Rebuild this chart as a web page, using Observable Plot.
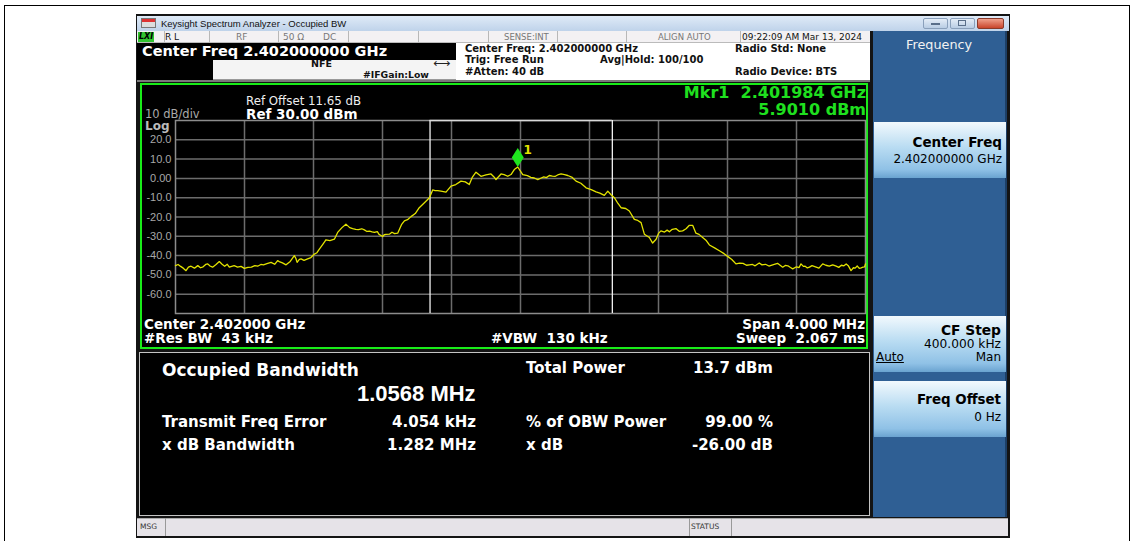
<!DOCTYPE html>
<html><head><meta charset="utf-8">
<script src="https://cdn.jsdelivr.net/npm/d3@7"></script>
<script src="https://cdn.jsdelivr.net/npm/@observablehq/plot@0.6"></script>
<style>
html,body{margin:0;padding:0}
body{width:1134px;height:541px;background:#fff;position:relative;overflow:hidden;font-family:"DejaVu Sans",sans-serif}
.a{position:absolute;white-space:pre}
.box{position:absolute;box-sizing:border-box}
</style></head><body>
<div class="box" style="left:4px;top:5px;width:1126px;height:560px;border:1px solid #000"></div>
<div class="box" style="left:136px;top:14px;width:874px;height:524px;background:#141414"></div>
<!-- title bar -->
<div class="box" style="left:137px;top:16px;width:872px;height:15px;background:linear-gradient(#dfeaf7,#bfd3ea)"></div>
<div class="box" style="left:141px;top:18px;width:15px;height:10px;background:linear-gradient(#d33 0 40%,#ddd 40% 100%);border:1px solid #777"></div>
<div class="box" style="left:923px;top:18px;width:25px;height:11px;background:linear-gradient(#e4edf7,#b9cde4);border:1px solid #8aa0bb;border-radius:2px"></div>
<div class="box" style="left:950px;top:18px;width:25px;height:11px;background:linear-gradient(#e4edf7,#b9cde4);border:1px solid #8aa0bb;border-radius:2px"></div>
<div class="box" style="left:977px;top:18px;width:27px;height:11px;background:linear-gradient(#f0a08c,#c9452c);border:1px solid #8a3a2a;border-radius:2px"></div>
<div class="box" style="left:931px;top:23px;width:9px;height:2px;background:#5a6f8a"></div>
<div class="box" style="left:958px;top:20px;width:8px;height:6px;border:1px solid #5a6f8a"></div>
<!-- status row -->
<div class="box" style="left:137px;top:31px;width:733px;height:12px;background:#f3f1f3;border-bottom:1px solid #bbb"></div>
<div class="box" style="left:138px;top:32px;width:16px;height:10px;background:#31c331"></div>
<!-- info area -->
<div class="box" style="left:137px;top:43px;width:733px;height:38px;background:#fff"></div>
<div class="box" style="left:137px;top:43px;width:319px;height:17px;background:#000"></div>
<div class="box" style="left:137px;top:60px;width:76px;height:20px;background:#000"></div>
<div class="box" style="left:213px;top:60px;width:243px;height:20px;background:#f4f4f4;border-bottom:1px solid #999"></div>
<div class="box" style="left:137px;top:80px;width:733px;height:2px;background:#7a7a7a"></div>
<!-- graph container -->
<div class="box" id="graph" style="left:140px;top:83px;width:728px;height:266px;border:2px solid #19ec19;background:#000"></div>
<!-- results -->
<div class="box" style="left:139px;top:352px;width:731px;height:164px;background:#000;border:1px solid #c4c4c4"></div>
<!-- softkey panel -->
<div class="box" style="left:873px;top:31px;width:134px;height:486px;background:#2f5f94;border-right:2px solid #1d3f66"></div>
<div class="box" style="left:874px;top:122px;width:132px;height:56px;background:linear-gradient(#f2f9fd,#b9dcf2 45%,#8fc1e6 85%,#6aa3d0)"></div>
<div class="box" style="left:874px;top:316px;width:132px;height:56px;background:linear-gradient(#f2f9fd,#b9dcf2 45%,#8fc1e6 85%,#6aa3d0)"></div>
<div class="box" style="left:874px;top:381px;width:132px;height:56px;background:linear-gradient(#f2f9fd,#b9dcf2 45%,#8fc1e6 85%,#6aa3d0)"></div>
<!-- bottom bar -->
<div class="box" style="left:137px;top:518px;width:871px;height:18px;background:#e6e3e8;border-top:1px solid #aaa"></div>
<div class="box" style="left:165px;top:518px;width:1px;height:18px;background:#999"></div>
<div class="box" style="left:689px;top:518px;width:1px;height:18px;background:#999"></div>
<div class="box" style="left:731px;top:518px;width:1px;height:18px;background:#999"></div>
<script>
// ---------------- data ----------------
const freqStartMHz = 2400.0;
const freqStopMHz = 2404.0;
const yMin = -70, yMax = 30;
const yTicks = [20, 10, 0, -10, -20, -30, -40, -50, -60];
const xGridMHz = [2400.4, 2400.8, 2401.2, 2401.6, 2402.0, 2402.4, 2402.8, 2403.2, 2403.6];
const obwEdgesMHz = [2401.4756, 2402.5324];
const markerFreqMHz = 2401.984;
const markerDbm = 5.901;
const traceFreqMHz = [
 2400.000,2400.015,2400.030,2400.045,2400.061,2400.075,2400.090,2400.110,2400.129,2400.145,
 2400.160,2400.175,2400.187,2400.200,2400.215,2400.235,2400.254,2400.270,2400.285,2400.300,
 2400.312,2400.340,2400.360,2400.380,2400.399,2400.420,2400.440,2400.460,2400.476,2400.495,
 2400.510,2400.530,2400.554,2400.575,2400.592,2400.605,2400.620,2400.641,2400.665,2400.689,
 2400.698,2400.705,2400.718,2400.728,2400.745,2400.766,2400.785,2400.805,2400.820,2400.834,
 2400.855,2400.872,2400.895,2400.921,2400.940,2400.965,2400.988,2401.010,2401.027,2401.045,
 2401.060,2401.080,2401.095,2401.110,2401.125,2401.140,2401.153,2401.170,2401.180,2401.201,
 2401.210,2401.220,2401.240,2401.255,2401.270,2401.288,2401.310,2401.327,2401.345,2401.365,
 2401.390,2401.413,2401.443,2401.472,2401.491,2401.505,2401.520,2401.539,2401.568,2401.597,
 2401.625,2401.655,2401.680,2401.703,2401.720,2401.742,2401.771,2401.800,2401.829,2401.845,
 2401.858,2401.887,2401.905,2401.926,2401.945,2401.964,2401.984,2402.013,2402.040,2402.060,
 2402.080,2402.100,2402.120,2402.135,2402.150,2402.167,2402.185,2402.200,2402.220,2402.235,
 2402.255,2402.274,2402.300,2402.322,2402.350,2402.380,2402.410,2402.438,2402.460,2402.486,
 2402.506,2402.525,2402.544,2402.565,2402.583,2402.610,2402.631,2402.660,2402.680,2402.699,
 2402.718,2402.747,2402.766,2402.786,2402.800,2402.814,2402.835,2402.850,2402.863,2402.880,
 2402.901,2402.920,2402.940,2402.960,2402.979,2402.998,2403.017,2403.035,2403.056,2403.075,
 2403.095,2403.125,2403.153,2403.180,2403.201,2403.225,2403.249,2403.270,2403.290,2403.310,
 2403.327,2403.345,2403.360,2403.384,2403.400,2403.420,2403.440,2403.462,2403.490,2403.505,
 2403.520,2403.535,2403.550,2403.565,2403.578,2403.600,2403.615,2403.626,2403.640,2403.650,
 2403.663,2403.675,2403.690,2403.710,2403.730,2403.752,2403.770,2403.790,2403.810,2403.830,
 2403.845,2403.860,2403.875,2403.888,2403.900,2403.916,2403.930,2403.940,2403.952,2403.964,
 2403.975,2403.985,2403.995,2404.000];
const traceDbm = [
 -45.2,-44.6,-45.6,-46.5,-47.8,-46.0,-45.5,-46.5,-45.2,-46.3,
 -45.8,-44.6,-44.3,-45.4,-46.0,-44.6,-43.1,-44.5,-45.5,-44.5,
 -46.0,-45.2,-46.0,-45.6,-46.6,-46.1,-46.0,-45.2,-45.5,-44.6,
 -44.8,-44.2,-43.5,-44.5,-42.6,-43.3,-43.8,-44.8,-43.0,-40.0,
 -41.5,-43.5,-42.0,-41.7,-42.5,-41.7,-41.0,-39.2,-38.5,-36.6,
 -34.0,-31.8,-32.2,-31.5,-28.0,-25.5,-23.7,-25.5,-26.0,-26.4,
 -26.5,-26.1,-26.7,-27.5,-27.3,-27.7,-28.0,-27.6,-29.0,-30.1,
 -29.2,-29.0,-28.9,-27.9,-28.6,-28.4,-24.0,-22.0,-21.4,-19.8,
 -18.2,-15.2,-12.6,-10.0,-6.0,-6.3,-6.3,-6.6,-7.1,-4.0,
 -3.2,-1.4,-1.8,-3.2,0.5,3.2,1.1,1.8,2.3,0.9,
 -0.6,2.3,2.0,1.1,2.0,4.6,5.9,2.0,1.4,0.5,
 0.2,-0.6,0.2,0.8,0.4,1.5,1.2,1.0,2.0,2.3,
 1.9,1.5,0.5,-1.4,-2.5,-4.9,-5.8,-7.0,-7.6,-8.8,
 -6.6,-8.5,-10.0,-13.0,-15.2,-15.6,-16.9,-21.2,-21.8,-22.9,
 -28.9,-30.6,-33.5,-31.5,-28.5,-27.2,-27.8,-26.8,-27.7,-26.4,
 -26.0,-27.4,-27.2,-26.1,-24.3,-24.3,-28.4,-29.0,-30.6,-32.0,
 -34.5,-36.0,-37.5,-39.0,-40.4,-42.0,-44.3,-43.9,-44.0,-45.0,
 -44.8,-44.6,-45.3,-43.8,-44.8,-44.5,-45.4,-44.8,-44.0,-45.0,
 -46.0,-45.1,-45.3,-46.2,-46.9,-45.8,-46.2,-44.3,-45.6,-45.5,
 -46.4,-46.0,-45.2,-45.8,-46.5,-44.3,-45.0,-45.5,-44.8,-45.5,
 -46.1,-45.0,-45.3,-44.3,-45.2,-47.8,-46.3,-46.5,-45.4,-46.6,
 -46.3,-46.0,-45.8,-44.3];

// ---------------- helpers ----------------
function label(txt, x, y, size, o = {}) {
  const d = document.createElement("div");
  d.className = "a";
  d.textContent = txt;
  const h = Math.round(size);
  d.style.top = (y - h / 2) + "px";
  d.style.height = h + "px";
  d.style.lineHeight = h + "px";
  d.style.fontSize = size + "px";
  d.style.fontWeight = o.weight || "normal";
  d.style.color = o.color || "#fff";
  d.style.fontFamily = o.family || '"DejaVu Sans"';
  if (o.extra) d.style.cssText += o.extra;
  if (o.align === "right") d.style.right = (1134 - x) + "px"; else d.style.left = x + "px";
  document.body.appendChild(d);
}
function vline(x, y, h, c) {
  const d = document.createElement("div");
  d.className = "box";
  d.style.cssText = `left:${x}px;top:${y}px;width:1px;height:${h}px;background:${c}`;
  document.body.appendChild(d);
}

// ---------------- plot ----------------
const trace = traceFreqMHz.map((f, i) => ({f, p: traceDbm[i]}));
const marker = [{f: markerFreqMHz, p: markerDbm}];
const tallDiamond = {draw(ctx) { ctx.moveTo(0, 0); ctx.lineTo(6, -9.5); ctx.lineTo(0, -19); ctx.lineTo(-6, -9.5); ctx.closePath(); }};

const chart = Plot.plot({
  width: 724, height: 262,
  marginLeft: 33, marginRight: 1, marginTop: 35, marginBottom: 34,
  x: {domain: [freqStartMHz, freqStopMHz], axis: null},
  y: {domain: [yMin, yMax], axis: null},
  style: {background: "#000", overflow: "visible", display: "block"},
  marks: [
    Plot.gridX(xGridMHz, {stroke: "#6c6c6c", strokeOpacity: 1, strokeWidth: 1.5}),
    Plot.gridY(yTicks, {stroke: "#6c6c6c", strokeOpacity: 1, strokeWidth: 1.5}),
    Plot.frame({stroke: "#8c8c8c", strokeWidth: 1.5}),
    Plot.ruleX(obwEdgesMHz, {stroke: "#f2f2f2", strokeWidth: 1.3}),
    Plot.ruleY([yMax], {x1: obwEdgesMHz[0], x2: obwEdgesMHz[1], stroke: "#d8d8d8", strokeWidth: 1.3}),
    Plot.line(trace, {x: "f", y: "p", stroke: "#e3e300", strokeWidth: 1.3}),
    Plot.dot(marker, {x: "f", y: "p", symbol: tallDiamond, fill: "#1ee61e", stroke: "none"}),
    Plot.text(marker, {x: "f", y: "p", text: () => "1", dx: 10, dy: -17, fill: "#e3e300", fontWeight: "bold", fontSize: 12, fontFamily: "DejaVu Sans"}),
    Plot.axisY(yTicks, {anchor: "left", label: null, tickSize: 0, tickPadding: 4, tickFormat: d => d === 0 ? "0.00" : d.toFixed(1), fill: "#a8a8a8", fontSize: 11, fontFamily: "Liberation Sans"})
  ]
});
document.getElementById("graph").appendChild(chart);

// ---------------- chrome text ----------------
label("Keysight Spectrum Analyzer - Occupied BW", 161, 23.5, 9.5, {color: "#111", family: '"Liberation Sans"'});
label("LXI", 139, 37, 8, {color: "#000", weight: "bold", extra: "font-style:italic"});
[164, 209, 278, 348, 418, 488, 557, 626, 740].forEach(x => vline(x, 31, 12, "#b8b8b8"));
label("R L", 165, 37, 9, {color: "#111"});
label("RF", 236, 37, 9, {color: "#777"});
label("50 Ω", 283, 37, 9, {color: "#777"});
label("DC", 323, 37, 9, {color: "#777"});
label("SENSE:INT", 504, 37, 8.5, {color: "#777"});
label("ALIGN AUTO", 658, 37, 8.5, {color: "#777"});
label("09:22:09 AM Mar 13, 2024", 742, 37, 9, {color: "#111"});

label("Center Freq 2.402000000 GHz", 142, 51.5, 14.5, {weight: "bold"});
label("NFE", 311, 64, 9.5, {color: "#111", weight: "bold"});
label("#IFGain:Low", 363, 74.5, 9.3, {color: "#111", weight: "bold"});
label("⟷", 433, 63, 12, {color: "#222"});
label("Center Freq: 2.402000000 GHz", 465, 49, 10, {color: "#111", weight: "bold"});
label("Trig: Free Run", 465, 60, 10, {color: "#111", weight: "bold"});
label("#Atten: 40 dB", 465, 72, 10, {color: "#111", weight: "bold"});
label("Avg|Hold: 100/100", 600, 60, 10, {color: "#111", weight: "bold"});
label("Radio Std: None", 735, 49, 10, {color: "#111", weight: "bold"});
label("Radio Device: BTS", 735, 72, 10, {color: "#111", weight: "bold"});

// graph texts
label("Ref Offset 11.65 dB", 246, 100.5, 11.8, {color: "#eee"});
label("Ref 30.00 dBm", 246, 113.5, 13.5, {weight: "bold"});
label("10 dB/div", 145, 114, 11.5, {color: "#aaa"});
label("Log", 145, 126, 12, {color: "#bbb", weight: "bold"});
label("Mkr1  2.401984 GHz", 866, 92.5, 16, {weight: "bold", color: "#1fe01f", align: "right"});
label("5.9010 dBm", 866, 109.5, 16, {weight: "bold", color: "#1fe01f", align: "right"});
label("Center 2.402000 GHz", 144, 323.5, 13.5, {weight: "bold"});
label("#Res BW  43 kHz", 144, 338, 13.5, {weight: "bold"});
label("#VBW  130 kHz", 491, 338, 13.5, {weight: "bold"});
label("Span 4.000 MHz", 865, 323.5, 13.5, {weight: "bold", align: "right"});
label("Sweep  2.067 ms", 865, 338, 13.5, {weight: "bold", align: "right"});

// results
label("Occupied Bandwidth", 162, 370.5, 17, {weight: "bold"});
label("1.0568 MHz", 357, 393.5, 22, {weight: "bold", family: '"Liberation Sans"'});
label("Total Power", 526, 368.5, 15, {weight: "bold"});
label("13.7 dBm", 773, 368.5, 15, {weight: "bold", align: "right"});
label("Transmit Freq Error", 162, 422.5, 15, {weight: "bold"});
label("4.054 kHz", 476, 422.5, 15, {weight: "bold", align: "right"});
label("% of OBW Power", 526, 422.5, 15, {weight: "bold"});
label("99.00 %", 773, 422.5, 15, {weight: "bold", align: "right"});
label("x dB Bandwidth", 162, 445.5, 15, {weight: "bold"});
label("1.282 MHz", 476, 445.5, 15, {weight: "bold", align: "right"});
label("x dB", 526, 445.5, 15, {weight: "bold"});
label("-26.00 dB", 773, 445.5, 15, {weight: "bold", align: "right"});

// softkeys
label("Frequency", 906, 44.5, 12.8, {color: "#f2f2f2"});
label("Center Freq", 1002, 142, 13.5, {weight: "bold", color: "#000", align: "right"});
label("2.402000000 GHz", 1002, 159, 12, {color: "#000", align: "right"});
label("CF Step", 1001, 330, 13.8, {weight: "bold", color: "#000", align: "right"});
label("400.000 kHz", 1001, 343.5, 12.2, {color: "#000", align: "right"});
label("Auto", 876, 357, 12, {color: "#000", extra: "text-decoration:underline"});
label("Man", 1001, 357, 12, {color: "#000", align: "right"});
label("Freq Offset", 1001, 399, 13.4, {weight: "bold", color: "#000", align: "right"});
label("0 Hz", 1001, 417, 12, {color: "#000", align: "right"});

// bottom bar
label("MSG", 140, 527, 7.5, {color: "#333"});
label("STATUS", 691, 527, 7.5, {color: "#333"});
</script>
</body></html>
